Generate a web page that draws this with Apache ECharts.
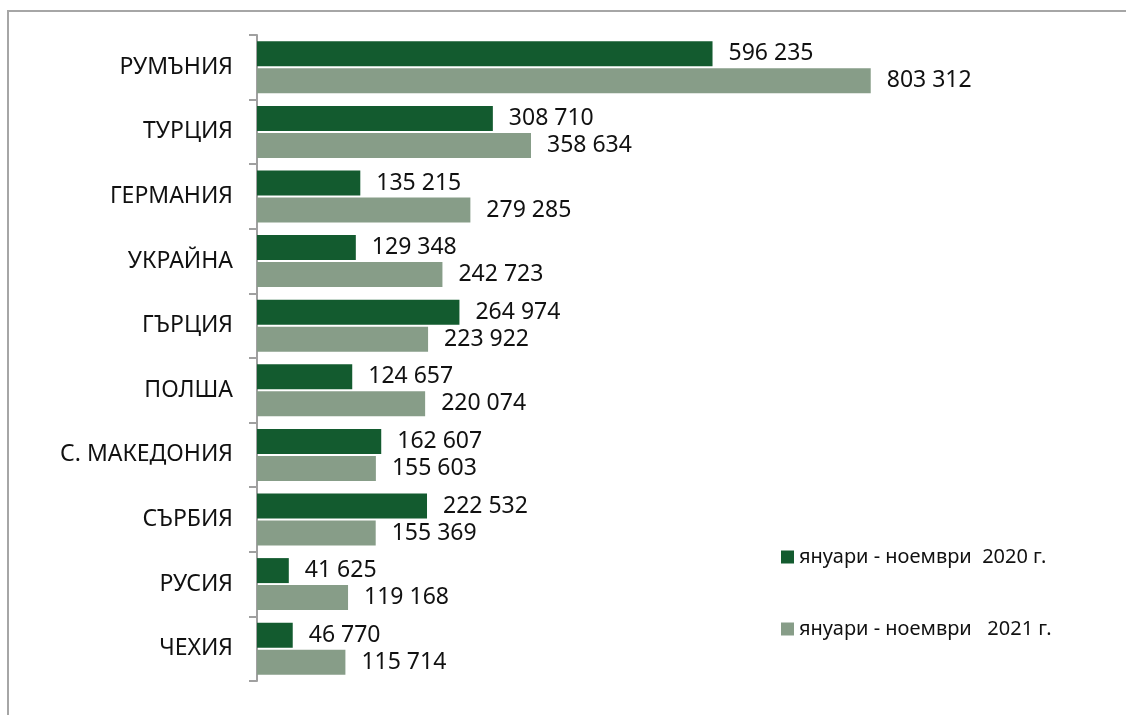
<!DOCTYPE html>
<html>
<head>
<meta charset="utf-8">
<script src="https://cdn.jsdelivr.net/npm/echarts@6/dist/echarts.min.js"></script>
<style>
  html, body { margin: 0; padding: 0; background: #fff; }
  #chart { width: 1126px; height: 715px; }
</style>
</head>
<body>
<div id="chart"></div>
<script>
'use strict';
const categories = ['РУМЪНИЯ', 'ТУРЦИЯ', 'ГЕРМАНИЯ', 'УКРАЙНА', 'ГЪРЦИЯ', 'ПОЛША', 'С. МАКЕДОНИЯ', 'СЪРБИЯ', 'РУСИЯ', 'ЧЕХИЯ'];
const values2020 = [596235, 308710, 135215, 129348, 264974, 124657, 162607, 222532, 41625, 46770];
const values2021 = [803312, 358634, 279285, 242723, 223922, 220074, 155603, 155369, 119168, 115714];
const seriesNames = ['януари - ноември  2020 г.', 'януари - ноември   2021 г.'];

const font = '"Noto Sans", sans-serif';

function fmt(p) {
    return String(p.value).replace(/\B(?=(\d{3})+(?!\d))/g, ' ');
}

function init() {
    const chart = echarts.init(document.getElementById('chart'));
    const labelStyle = {
        show: true,
        position: 'right',
        distance: 16,
        formatter: fmt,
        color: '#111',
        fontSize: 23,
        fontFamily: font,
    };
    const option = {
        animation: false,
        color: ['#135b2f', '#879d88'],
        // рамка около диаграмата
        graphic: [{
            type: 'rect',
            shape: { x: 8, y: 11, width: 1300, height: 900 },
            style: { fill: 'none', stroke: '#a6a6a6', lineWidth: 2 },
            silent: true,
        }],
        grid: {
            left: 257,
            top: 35,
            height: 646,
            width: 764,
        },
        legend: {
            orient: 'vertical',
            left: 776,
            top: 542,
            itemWidth: 13,
            itemHeight: 13,
            itemGap: 52,
            icon: 'rect',
            textStyle: { fontSize: 20, fontFamily: font, color: '#111' },
            data: seriesNames,
        },
        xAxis: {
            type: 'value',
            min: 0,
            max: 1000000,
            show: false,
        },
        yAxis: {
            type: 'category',
            inverse: true,
            data: categories,
            axisLine: { show: true, lineStyle: { color: '#a0a0a0', width: 2 } },
            axisTick: { show: true, length: 8, interval: 0, lineStyle: { color: '#a0a0a0', width: 2 } },
            axisLabel: { margin: 24, fontSize: 23, fontFamily: font, color: '#111' },
        },
        series: [
            {
                name: seriesNames[0],
                type: 'bar',
                data: values2020,
                barWidth: 25,
                barGap: '8%',
                label: labelStyle,
            },
            {
                name: seriesNames[1],
                type: 'bar',
                data: values2021,
                barWidth: 25,
                label: labelStyle,
            },
        ],
    };
    chart.setOption(option);
}

(function () {
    init();
})();
</script>
</body>
</html>
